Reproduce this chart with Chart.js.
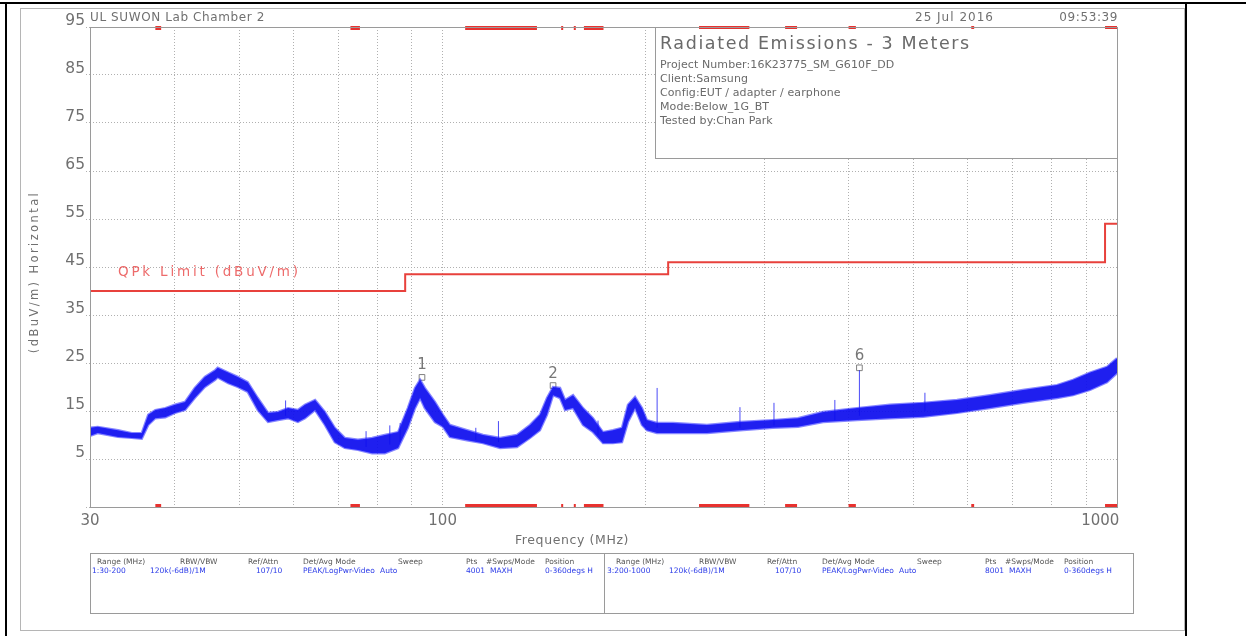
<!DOCTYPE html>
<html>
<head>
<meta charset="utf-8">
<script src="https://cdn.jsdelivr.net/npm/chart.js@4.4.1/dist/chart.umd.min.js"></script>
<style>
  html, body { margin: 0; padding: 0; background: #fff; }
  #wrap { position: relative; width: 1246px; height: 636px; }
</style>
</head>
<body>
<div id="wrap"><canvas id="emi" width="1246" height="636"></canvas></div>
<script>
// --- data ---
const traceFreq = [30.0, 30.8, 33.0, 34.6, 35.8, 36.6, 37.5, 38.8, 40.1, 41.5, 42.9, 44.4, 46.0, 46.4, 48.1,
  49.7, 51.4, 53.2, 55.1, 57.0, 59.0, 61.0, 62.5, 64.7, 66.9, 69.2, 71.6, 74.9, 78.6, 82.1, 85.9, 88.8,
  91.0, 92.6, 94.1, 97.4, 100.1, 102.5, 108.7, 114.8, 121.7, 128.9, 134.8, 139.4, 142.8, 145.8, 149.3,
  151.9, 156.1, 161.5, 167.1, 172.9, 178.9, 184.5, 188.3, 192.9, 197.5, 200.9, 207.9, 219.6, 246.6,
  276.0, 308.9, 336.5, 366.5, 411.6, 460.7, 515.7, 579.1, 648.2, 725.3, 814.8, 860.6, 912.0, 966.5, 1000];
const traceHigh = [11.5, 11.7, 11.0, 10.4, 10.4, 14.2, 15.2, 15.6, 16.3, 16.9, 19.8, 22.1, 23.5, 24.0, 23.0,
  22.1, 21.0, 17.7, 14.6, 14.8, 15.6, 15.2, 16.3, 17.3, 14.8, 11.5, 9.4, 9.0, 9.4, 10.0, 10.6, 15.6,
  19.8, 21.5, 19.8, 16.9, 14.2, 12.1, 11.0, 10.0, 9.4, 10.0, 12.1, 14.2, 17.7, 20.0, 19.8,
  17.3, 18.3, 15.6, 13.5, 10.6, 11.0, 11.5, 16.3, 17.9, 15.6, 13.1, 12.5, 12.5, 12.1,
  12.7, 13.1, 13.5, 14.8, 15.6, 16.3, 16.7, 17.3, 18.3, 19.4, 20.4, 21.5, 23.0, 24.2, 26.0];
const traceLow = [9.8, 10.4, 9.6, 9.4, 9.2, 12.1, 13.5, 13.7, 14.6, 15.2, 17.7, 20.0, 21.5, 22.0, 20.8,
  20.0, 19.0, 15.2, 12.7, 13.1, 13.5, 12.7, 13.5, 15.2, 12.1, 8.5, 7.3, 6.9, 6.2, 6.2, 7.3, 11.5,
  15.6, 17.7, 15.6, 12.7, 11.7, 9.6, 8.9, 8.3, 7.3, 7.5, 9.4, 11.0, 14.2, 18.3, 17.7,
  15.2, 15.6, 12.1, 10.6, 8.3, 8.3, 8.5, 12.7, 15.6, 12.1, 11.0, 10.4, 10.4, 10.4,
  11.0, 11.5, 11.7, 12.7, 13.1, 13.5, 13.8, 14.6, 15.6, 16.7, 17.7, 18.3, 19.4, 21.0, 22.9];

// narrow spurs sticking out of the noise
const spurFreq = [58.5, 77.0, 83.5, 86.5, 112.0, 121.0, 170.0, 208.0, 276.0, 310.0, 381.6, 415.0, 519.0];
const spurBase = [14.0, 7.5, 8.0, 8.5, 9.0, 8.5, 10.0, 11.5, 11.5, 12.0, 13.0, 14.0, 15.0];
const spurTop = [17.2, 10.8, 12.0, 12.5, 11.5, 12.9, 13.0, 19.8, 15.8, 16.7, 17.3, 23.5, 18.8];

const limitFreq = [30, 88, 216, 960, 1000];
const limitLevel = [40, 43.5, 46, 54, 54];

// restricted bands (red bars top/bottom)
const bandStart = [37.5, 73, 108, 149.9, 156.5, 162, 240, 322, 399.9, 608, 960];
const bandEnd = [38.25, 75.4, 138, 150.05, 156.9, 173.2, 285, 335.4, 410, 614, 1000];

const markerFreq = [93.2, 145.8, 415];
const markerLevel = [22.0, 20.3, 24.0];
const markerName = ['1', '2', '6'];

const yTicks = [-5, 5, 15, 25, 35, 45, 55, 65, 75, 85, 95];
const xGrid = [30, 40, 50, 60, 70, 80, 90, 100, 200, 300, 400, 500, 600, 700, 800, 900, 1000];
const xLabelled = [30, 100, 1000];

const infoTitle = 'Radiated Emissions - 3 Meters';
const infoLines = ['Project Number:16K23775_SM_G610F_DD', 'Client:Samsung', 'Config:EUT / adapter / earphone',
  'Mode:Below_1G_BT', 'Tested by:Chan Park'];
const tableHead = ['Range (MHz)', 'RBW/VBW', 'Ref/Attn', 'Det/Avg Mode', 'Sweep', 'Pts', '#Swps/Mode', 'Position'];
const tableRow1 = ['1:30-200', '120k(-6dB)/1M', '107/10', 'PEAK/LogPwr-Video', 'Auto', '4001', 'MAXH', '0-360degs H'];
const tableRow2 = ['3:200-1000', '120k(-6dB)/1M', '107/10', 'PEAK/LogPwr-Video', 'Auto', '8001', 'MAXH', '0-360degs H'];

const EDGE = 'rgba(35, 35, 255, 0.55)';
const GREY = '#707070';
const FONT = '"DejaVu Sans", sans-serif';

const spurData = [];
spurFreq.forEach((f, i) => {
  spurData.push({ x: f, y: spurBase[i] }, { x: f, y: spurTop[i] }, { x: f, y: null });
});

function txt(ctx, s, x, y, size, color, align, spacing) {
  ctx.font = size + 'px ' + FONT;
  ctx.fillStyle = color;
  ctx.textAlign = align || 'left';
  ctx.textBaseline = 'alphabetic';
  ctx.letterSpacing = (spacing || 0) + 'px';
  ctx.fillText(s, x, y);
  ctx.letterSpacing = '0px';
}

// white page, frame lines
const pagePlugin = {
  id: 'page',
  beforeDraw(chart) {
    const ctx = chart.ctx;
    ctx.save();
    ctx.fillStyle = '#fff';
    ctx.fillRect(0, 0, chart.width, chart.height);
    ctx.strokeStyle = '#b5b5b5';
    ctx.lineWidth = 1;
    ctx.strokeRect(20.5, 8.5, 1164, 622);
    ctx.fillStyle = '#000';
    ctx.fillRect(0, 2, chart.width, 2);
    ctx.fillRect(5, 2, 2, chart.height);
    ctx.fillRect(1185, 2, 2, chart.height);
    ctx.restore();
  }
};

// bands, markers, boxes, texts
const decoPlugin = {
  id: 'deco',
  afterDatasetsDraw(chart) {
    const { ctx, chartArea: a, scales: { x, y } } = chart;
    ctx.save();
    ctx.fillStyle = '#e8322f';
    bandStart.forEach((s, i) => {
      const x1 = x.getPixelForValue(s), x2 = x.getPixelForValue(bandEnd[i]);
      const w = Math.max(2, x2 - x1);
      ctx.fillRect(x1, a.top - 1, w, 4);
      ctx.fillRect(x1, a.bottom - 3, w, 4);
    });
    markerFreq.forEach((f, i) => {
      txt(ctx, markerName[i], x.getPixelForValue(f), y.getPixelForValue(markerLevel[i]) - 8, 15, '#777', 'center');
    });
    ctx.restore();
  },
  afterDraw(chart) {
    const { ctx, chartArea: a } = chart;
    ctx.save();
    // plot frame
    ctx.strokeStyle = '#9a9a9a';
    ctx.lineWidth = 1;
    ctx.strokeRect(a.left + 0.5, a.top + 0.5, a.right - a.left, a.bottom - a.top);
    // info box
    ctx.fillStyle = '#fff';
    ctx.fillRect(655, a.top + 2, a.right - 655, 130);
    ctx.strokeStyle = '#9a9a9a';
    ctx.strokeRect(655.5, a.top + 0.5, a.right - 655, 131);
    txt(ctx, infoTitle, 660, 49, 17.5, '#6a6a6a', 'left', 1.6);
    infoLines.forEach((s, i) => txt(ctx, s, 660, 68 + i * 14, 11, '#6a6a6a', 'left', 0.1));
    // header
    txt(ctx, 'UL SUWON Lab Chamber 2', 90, 21, 12, GREY, 'left', 0.6);
    txt(ctx, '25 Jul 2016', 915, 21, 12, GREY, 'left', 1);
    txt(ctx, '09:53:39', 1118, 21, 12, GREY, 'right', 0.6);
    // limit label
    txt(ctx, 'QPk Limit (dBuV/m)', 118, 276, 13.5, 'rgba(232,70,70,0.8)', 'left', 2.8);
    // axis titles
    txt(ctx, 'Frequency (MHz)', 572, 544, 12.5, GREY, 'center', 0.6);
    ctx.save();
    ctx.translate(38, 272);
    ctx.rotate(-Math.PI / 2);
    txt(ctx, '(dBuV/m) Horizontal', 0, 0, 11.5, GREY, 'center', 2.4);
    ctx.restore();
    // settings table
    ctx.strokeStyle = '#9a9a9a';
    ctx.strokeRect(90.5, 553.5, 1043, 60);
    ctx.beginPath();
    ctx.moveTo(604.5, 553.5);
    ctx.lineTo(604.5, 613.5);
    ctx.stroke();
    const headX = [97, 180, 248, 303, 398, 466, 486, 545];
    const valX = [92, 150, 256, 303, 380, 466, 490, 545];
    tableHead.forEach((s, i) => {
      txt(ctx, s, headX[i], 564, 7.5, '#555', 'left');
      txt(ctx, s, headX[i] + 519, 564, 7.5, '#555', 'left');
    });
    tableRow1.forEach((s, i) => txt(ctx, s, valX[i], 573, 7.5, '#2b3be8', 'left'));
    tableRow2.forEach((s, i) => txt(ctx, s, valX[i] + (i === 0 ? 515 : 519), 573, 7.5, '#2b3be8', 'left'));
    ctx.restore();
  }
};

new Chart(document.getElementById('emi'), {
  type: 'line',
  data: {
    datasets: [
      {
        label: 'Trace low',
        data: traceFreq.map((f, i) => ({ x: f, y: traceLow[i] })),
        borderColor: EDGE, borderWidth: 2.4, pointRadius: 0, fill: false, tension: 0
      },
      {
        label: 'Trace high',
        data: traceFreq.map((f, i) => ({ x: f, y: traceHigh[i] })),
        borderColor: EDGE, borderWidth: 2.4, pointRadius: 0, tension: 0,
        fill: '-1', backgroundColor: 'rgba(12, 12, 238, 0.92)'
      },
      {
        label: 'Spurs',
        data: spurData,
        borderColor: 'rgba(30, 30, 245, 0.8)', borderWidth: 1, pointRadius: 0, spanGaps: false
      },
      {
        label: 'QPk Limit',
        data: limitFreq.map((f, i) => ({ x: f, y: limitLevel[i] })),
        stepped: 'before', borderColor: '#e8413c', borderWidth: 2, pointRadius: 0
      },
      {
        label: 'Markers',
        data: markerFreq.map((f, i) => ({ x: f, y: markerLevel[i] })),
        showLine: false, pointStyle: 'rect', pointRadius: 4,
        borderColor: '#808080', borderWidth: 1, backgroundColor: 'rgba(255,255,255,0)'
      }
    ]
  },
  options: {
    responsive: false,
    animation: false,
    layout: { padding: { left: 0, top: 27, right: 129, bottom: 0 } },
    plugins: { legend: { display: false }, tooltip: { enabled: false } },
    scales: {
      x: {
        type: 'logarithmic', min: 30, max: 1000,
        afterBuildTicks: (s) => { s.ticks = xGrid.map(v => ({ value: v })); },
        afterFit: (s) => { s.height = 129; },
        ticks: {
          autoSkip: false, maxRotation: 0, padding: 5,
          color: GREY, font: { family: FONT, size: 15 },
          // trailing spaces pull the last label inside the frame
          callback: (v) => xLabelled.includes(v) ? (v === 1000 ? '1000       ' : String(v)) : ''
        },
        grid: { color: '#b0b0b0', lineWidth: 1, drawTicks: false },
        border: { display: false, dash: [1, 2] }
      },
      y: {
        min: -5, max: 95,
        afterBuildTicks: (s) => { s.ticks = yTicks.map(v => ({ value: v })); },
        afterFit: (s) => { s.width = 90; },
        ticks: {
          padding: 1, labelOffset: -6,
          color: GREY, font: { family: FONT, size: 15.5 },
          callback: (v) => v < 0 ? '' : String(v)
        },
        grid: { color: '#b0b0b0', lineWidth: 1, tickLength: 4, tickBorderDash: [1, 2] },
        border: { display: false, dash: [1, 2] }
      }
    }
  },
  plugins: [pagePlugin, decoPlugin]
});
</script>
</body>
</html>
